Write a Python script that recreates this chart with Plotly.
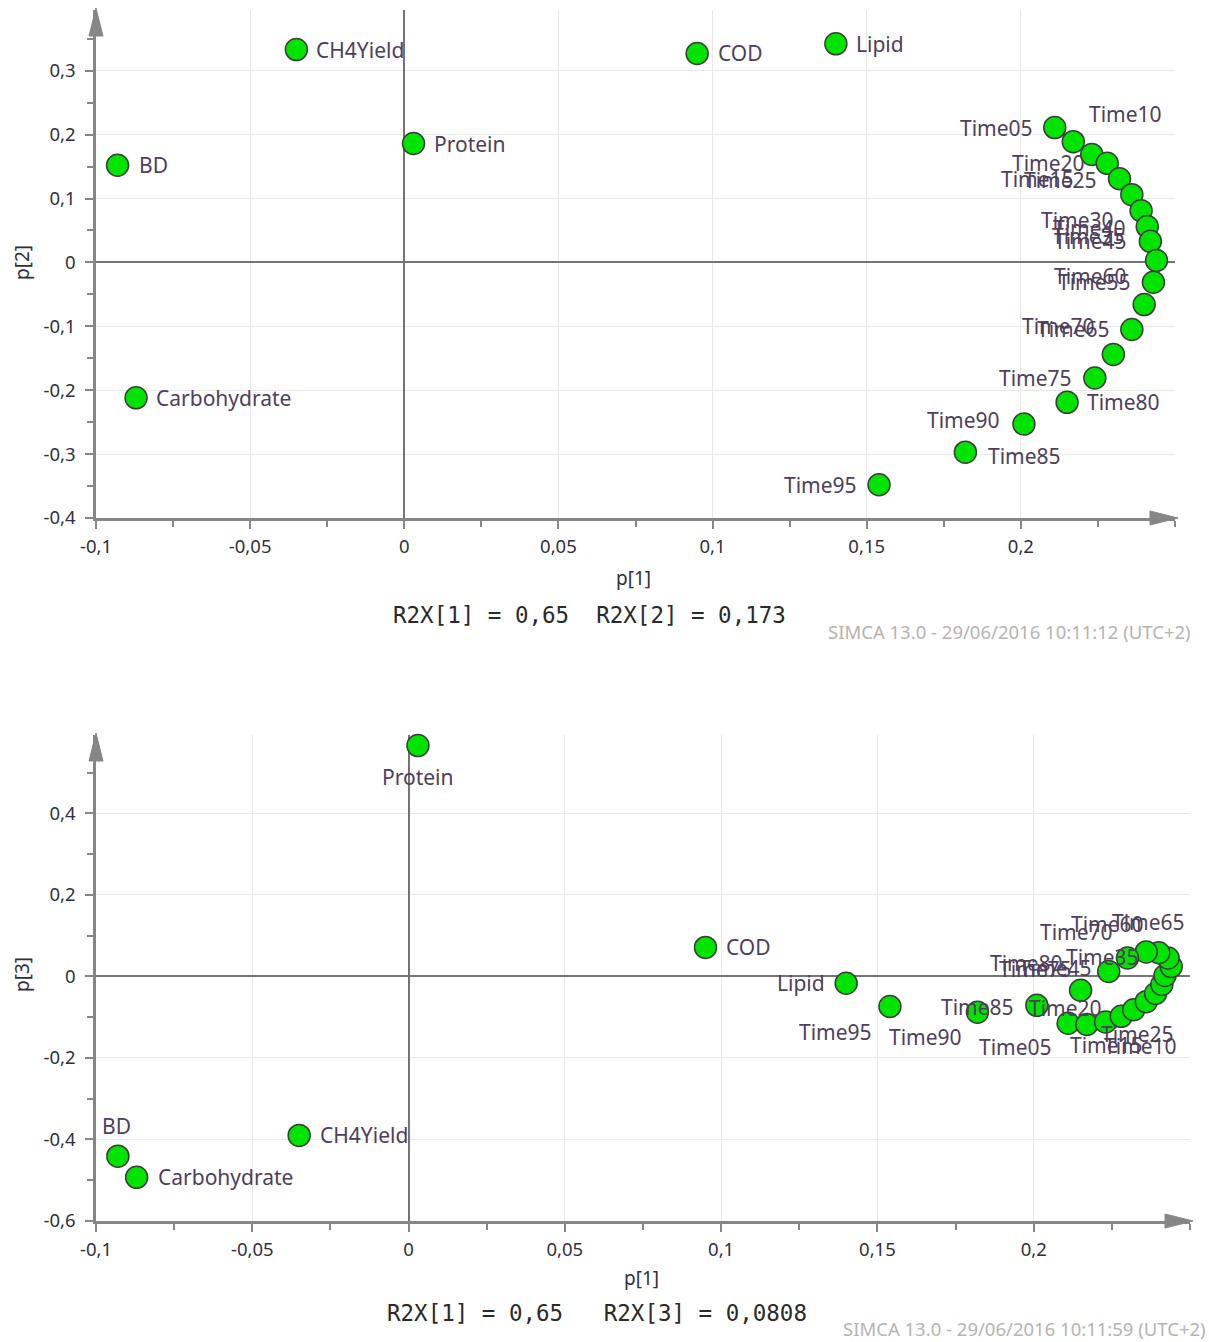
import plotly.graph_objects as go

# ---- loadings (SIMCA PCA model) -------------------------------------------
variables = ["BD", "CH4Yield", "Carbohydrate", "Protein", "COD", "Lipid"]
times = ["Time05", "Time10", "Time15", "Time20", "Time25", "Time30", "Time35",
         "Time40", "Time45", "Time50", "Time55", "Time60", "Time65", "Time70",
         "Time75", "Time80", "Time85", "Time90", "Time95"]
names = variables + times

p1_vars = [-0.093, -0.035, -0.087, 0.003, 0.095, 0.140]
p1_times = [0.211, 0.217, 0.223, 0.228, 0.232, 0.236, 0.239, 0.241, 0.242, 0.244,
            0.243, 0.240, 0.236, 0.230, 0.224, 0.215, 0.182, 0.201, 0.154]

p2_vars = [0.152, 0.333, -0.212, 0.186, 0.327, 0.342]
p2_times = [0.211, 0.189, 0.169, 0.155, 0.131, 0.106, 0.081, 0.056, 0.033, 0.003,
            -0.031, -0.066, -0.105, -0.144, -0.181, -0.219, -0.297, -0.253, -0.348]

p3_vars = [-0.441, -0.390, -0.493, 0.566, 0.071, -0.017]
p3_times = [-0.115, -0.118, -0.112, -0.098, -0.082, -0.062, -0.042, -0.020, 0.002, 0.024,
            0.045, 0.058, 0.060, 0.045, 0.012, -0.034, -0.088, -0.071, -0.074]

p1 = p1_vars + p1_times
p2 = p2_vars + p2_times
p3 = p3_vars + p3_times

r2x_top = "R2X[1] = 0,65  R2X[2] = 0,173"
r2x_bottom = "R2X[1] = 0,65   R2X[3] = 0,0808"
stamp_top = "SIMCA 13.0 - 29/06/2016 10:11:12 (UTC+2)"
stamp_bottom = "SIMCA 13.0 - 29/06/2016 10:11:59 (UTC+2)"

x_ticks = [-0.1, -0.05, 0, 0.05, 0.1, 0.15, 0.2]
x_ticktext = ["-0,1", "-0,05", "0", "0,05", "0,1", "0,15", "0,2"]
y2_ticks = [-0.4, -0.3, -0.2, -0.1, 0, 0.1, 0.2, 0.3]
y2_ticktext = ["-0,4", "-0,3", "-0,2", "-0,1", "0", "0,1", "0,2", "0,3"]
y3_ticks = [-0.6, -0.4, -0.2, 0, 0.2, 0.4]
y3_ticktext = ["-0,6", "-0,4", "-0,2", "0", "0,2", "0,4"]

# ---- label placement: (anchor, dx px, dy px down) relative to the marker ----
top_labels = {
    "BD": ("left", 19, 0), "CH4Yield": ("left", 18, 0), "Carbohydrate": ("left", 18, 0),
    "Protein": ("left", 18, 0), "COD": ("left", 19, 0), "Lipid": ("left", 18, 0),
    "Time05": ("right", -20, 0), "Time10": ("left", 14, -28), "Time15": ("right", -16, 25),
    "Time20": ("right", -20, 0), "Time25": ("right", -21, 1), "Time30": ("right", -16, 25),
    "Time35": ("right", -14, 25), "Time40": ("right", -19, 1), "Time45": ("right", -21, 0),
    "Time55": ("right", -20, 0), "Time60": ("right", -15, -29), "Time65": ("right", -20, 0),
    "Time70": ("right", -16, -28), "Time75": ("right", -21, 0), "Time80": ("left", 18, 0),
    "Time85": ("left", 21, 4), "Time90": ("right", -22, -4), "Time95": ("right", -20, 0),
}
bottom_labels = {
    "Protein": ("center", 0, 31), "COD": ("left", 18, 0), "Lipid": ("right", -19, 0),
    "CH4Yield": ("left", 19, 0), "BD": ("center", -1, -30), "Carbohydrate": ("left", 19, 0),
    "Time95": ("center", -54, 25), "Time90": ("center", -111, 32), "Time85": ("center", 0, -5),
    "Time05": ("center", -53, 24), "Time10": ("center", 54, 22), "Time15": ("center", 1, 23),
    "Time20": ("center", -56, -8), "Time25": ("center", 4, 24), "Time35": ("center", -53, -36),
    "Time45": ("center", -109, -8), "Time60": ("center", -51, -29), "Time65": ("center", 2, -30),
    "Time70": ("center", -51, -26), "Time75": ("center", -73, -2), "Time80": ("center", -54, -27),
}

# ---- page geometry (pixels) ----
W, H = 1209, 1342
TOP = dict(left=96, right=1175, top=10, bottom=518)
BOT = dict(left=96, right=1190, top=735, bottom=1221)

GREEN = "#00e400"
EDGE = "#3c3c3c"
AXIS = "#868686"
LABEL = "#4d405c"
TICKC = "#30303c"
FONT = "Noto Sans"


def fx(px):
    return px / W


def fy(py):
    return 1 - py / H


fig = go.Figure()
for xa, ya, yv in (("x", "y", p2), ("x2", "y2", p3)):
    fig.add_trace(go.Scatter(
        x=p1, y=yv, mode="markers", xaxis=xa, yaxis=ya, text=names,
        marker=dict(size=22, color=GREEN, line=dict(color=EDGE, width=1.5)),
        cliponaxis=False, showlegend=False, hoverinfo="text",
    ))


def axis_common():
    return dict(
        showline=True, linecolor=AXIS, linewidth=2.5,
        ticks="outside", ticklen=8, tickwidth=1.5, tickcolor=AXIS,
        showgrid=True, gridcolor="#e8e8e8", gridwidth=1,
        zeroline=True, zerolinecolor="#747474", zerolinewidth=1.5,
        tickfont=dict(family=FONT, size=18.5, color=TICKC),
        tickmode="array", fixedrange=True, automargin=False,
    )


def minor(step):
    return dict(ticks="outside", ticklen=6, tickcolor=AXIS, tickmode="linear",
                tick0=0, dtick=step, showgrid=False)


fig.update_layout(
    width=W, height=H, margin=dict(l=0, r=0, t=0, b=0, autoexpand=False),
    paper_bgcolor="white", plot_bgcolor="white",
    xaxis=dict(axis_common(), domain=[fx(TOP["left"]), fx(TOP["right"])], range=[-0.1, 0.25],
               tickvals=x_ticks, ticktext=x_ticktext, anchor="y", ticklabelstandoff=2,
               minor=minor(0.025)),
    yaxis=dict(axis_common(), domain=[fy(TOP["bottom"]), fy(TOP["top"])], range=[-0.4, 0.395],
               tickvals=y2_ticks, ticktext=y2_ticktext, anchor="x", ticklabelstandoff=6,
               minor=minor(0.05)),
    xaxis2=dict(axis_common(), domain=[fx(BOT["left"]), fx(BOT["right"])], range=[-0.1, 0.25],
                tickvals=x_ticks, ticktext=x_ticktext, anchor="y2", ticklabelstandoff=2,
                minor=minor(0.025)),
    yaxis2=dict(axis_common(), domain=[fy(BOT["bottom"]), fy(BOT["top"])], range=[-0.6, 0.592],
                tickvals=y3_ticks, ticktext=y3_ticktext, anchor="x2", ticklabelstandoff=6,
                minor=minor(0.1)),
)

annotations = []


def add_labels(placements, xref, yref, yvals):
    for name, xv, yv in zip(names, p1, yvals):
        if name not in placements:
            continue
        anchor, dx, dy = placements[name]
        annotations.append(dict(
            x=xv, y=yv, xref=xref, yref=yref, text=name, showarrow=False,
            xanchor=anchor, yanchor="middle", xshift=dx, yshift=-dy,
            font=dict(family=FONT, size=21, color=LABEL),
        ))


add_labels(top_labels, "x", "y", p2)
add_labels(bottom_labels, "x2", "y2", p3)


def paper_text(text, px, py, size, color, family=FONT, xanchor="center", angle=0):
    annotations.append(dict(
        x=fx(px), y=fy(py), xref="paper", yref="paper", text=text, showarrow=False,
        xanchor=xanchor, yanchor="middle", textangle=angle,
        font=dict(family=family, size=size, color=color),
    ))


# axis titles, R2X summaries and timestamps
paper_text("p[1]", 634, 578, 19, TICKC)
paper_text("p[2]", 22, 263, 19, TICKC, angle=-90)
paper_text(r2x_top.replace(" ", "&nbsp;"), 589, 615, 22.5, "#2a2a2a", family="DejaVu Sans Mono")
paper_text(stamp_top, 1193, 631, 18.5, "#b4b4b4", xanchor="right")

paper_text("p[1]", 641, 1278, 19, TICKC)
paper_text("p[3]", 22, 975, 19, TICKC, angle=-90)
paper_text(r2x_bottom.replace(" ", "&nbsp;"), 597, 1313, 22.5, "#2a2a2a", family="DejaVu Sans Mono")
paper_text(stamp_bottom, 1208, 1328, 18.5, "#b4b4b4", xanchor="right")

fig.update_layout(annotations=annotations)


# arrow heads at the ends of the axes
def tri(points):
    path = "M " + " L ".join(f"{fx(a)},{fy(b)}" for a, b in points) + " Z"
    return dict(type="path", xref="paper", yref="paper", path=path,
                fillcolor=AXIS, line=dict(color=AXIS, width=1), layer="above")


shapes = []
for box in (TOP, BOT):
    L, R, T, B = box["left"], box["right"], box["top"], box["bottom"]
    # up arrow on the vertical axis
    shapes.append(tri([(L, T - 2), (L - 7, T + 26), (L + 7, T + 26)]))
    # right arrow on the horizontal axis
    shapes.append(tri([(R + 3, B), (R - 25, B - 7), (R - 25, B + 7)]))
fig.update_layout(shapes=shapes)

fig.write_html("out.html")
